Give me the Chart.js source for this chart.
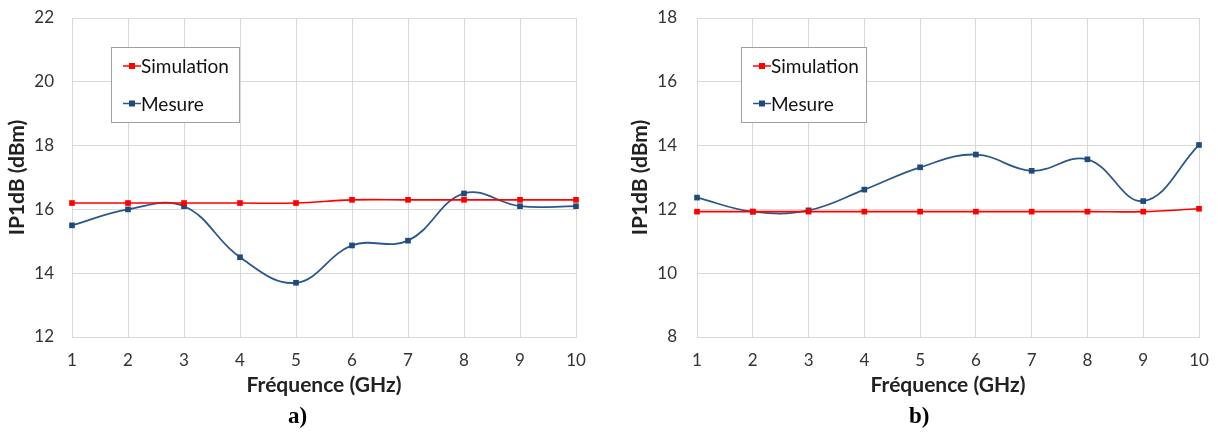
<!DOCTYPE html>
<html>
<head>
<meta charset="utf-8">
<script src="https://cdn.jsdelivr.net/npm/chart.js@4.4.1/dist/chart.umd.min.js"></script>
<style>
  body { margin: 0; background: #fff; }
  .wrap { position: relative; width: 1218px; height: 432px; }
  .panel { position: absolute; top: 0; width: 609px; height: 432px; }
  .cap { position: absolute; top: 403px; font: bold 23px "Liberation Serif", serif; color: #000; }
</style>
</head>
<body>
<div class="wrap">
  <div class="panel" style="left:0"><canvas id="chartA" width="609" height="432"></canvas></div>
  <div class="panel" style="left:609px"><canvas id="chartB" width="609" height="432"></canvas></div>
  <div class="cap" style="left:288px">a)</div>
  <div class="cap" style="left:909px">b)</div>
</div>
<script>
/* data */
const freqs = ['1', '2', '3', '4', '5', '6', '7', '8', '9', '10'];

const simA = [16.2, 16.2, 16.2, 16.2, 16.2, 16.3, 16.3, 16.3, 16.3, 16.3];
const mesA = [15.5, 16.0, 16.1, 14.5, 13.7, 14.87, 15.02, 16.5, 16.1, 16.1];

const simB = [11.93, 11.93, 11.93, 11.93, 11.93, 11.93, 11.93, 11.93, 11.93, 12.02];
const mesB = [12.37, 11.93, 11.97, 12.62, 13.32, 13.72, 13.21, 13.57, 12.26, 14.02];

const ticksA = [12, 14, 16, 18, 20, 22];
const ticksB = [8, 10, 12, 14, 16, 18];

const C_RED  = '#ff0000';
const C_BLUE = '#2b5889';
const C_BMK  = '#1f4a7d';
const C_GRID = '#d9d9d9';
const C_TXT  = '#333333';
const NONE   = 'rgba(0,0,0,0)';

/* legend box inside the plot, like the Excel one */
const boxLegend = {
  id: 'boxLegend',
  afterDatasetsDraw(chart, args, opts) {
    const { ctx, chartArea } = chart;
    const x0 = chartArea.left + opts.dx;
    const y0 = chartArea.top + opts.dy;
    const w = opts.w, h = 75;
    ctx.save();
    ctx.fillStyle = '#fff';
    ctx.fillRect(x0, y0, w, h);
    ctx.strokeStyle = '#a0a0a0';
    ctx.lineWidth = 1;
    ctx.strokeRect(x0 + 0.5, y0 + 0.5, w, h);
    ctx.font = '19px Lato';
    ctx.textBaseline = 'middle';
    chart.data.datasets.forEach((ds, i) => {
      const cy = y0 + 19 + i * 37.5;
      const lx = x0 + 12;
      ctx.strokeStyle = ds.borderColor;
      ctx.lineWidth = 1.5;
      ctx.beginPath(); ctx.moveTo(lx, cy); ctx.lineTo(lx + 18, cy); ctx.stroke();
      ctx.fillStyle = ds.pointBackgroundColor;
      ctx.fillRect(lx + 6, cy - 3, 6, 6);
      ctx.fillStyle = '#111';
      ctx.fillText(ds.label, lx + 18, cy + 1);
    });
    ctx.restore();
  }
};

function makeChart(id, sim, mes, ticks, cfg) {
  const line = (label, data, col, mk, bw) => ({
    label, data,
    borderColor: col, borderWidth: bw,
    pointStyle: 'rect', pointRadius: 4, pointHoverRadius: 4,
    pointBackgroundColor: mk, pointBorderColor: mk, pointBorderWidth: 0,
    tension: 0.4, cubicInterpolationMode: 'default', fill: false
  });

  return new Chart(document.getElementById(id), {
    type: 'line',
    data: {
      labels: freqs,
      datasets: [
        line('Simulation', sim, C_RED, C_RED, 1.6),
        line('Mesure', mes, C_BLUE, C_BMK, 1.8)
      ]
    },
    plugins: [boxLegend],
    options: {
      responsive: false, animation: false,
      layout: { padding: { left: 0, right: cfg.padR, top: 18, bottom: 0 } },
      plugins: {
        legend: { display: false }, tooltip: { enabled: false },
        boxLegend: { dx: cfg.lgX, dy: 29, w: cfg.lgW }
      },
      scales: {
        x: {
          offset: false,
          // invisible tick marks do the spacing, so the tick padding stays small
          grid: { color: C_GRID, drawTicks: true, tickLength: 11, tickColor: NONE },
          border: { color: C_GRID },
          ticks: { color: C_TXT, font: { family: 'Lato', size: 17 }, padding: 2, maxRotation: 0 },
          title: { display: true, text: 'Fréquence (GHz)', color: '#222', font: { family: 'Lato', size: 21, weight: 'bold' }, padding: { top: 0, bottom: 34 } },
          afterFit: s => { s.height = 95; }
        },
        y: {
          min: ticks[0], max: ticks[ticks.length - 1],
          afterBuildTicks: s => { s.ticks = ticks.map(v => ({ value: v })); },
          grid: { color: C_GRID, drawTicks: true, tickLength: cfg.tickLen, tickColor: NONE },
          border: { color: C_GRID },
          ticks: { color: C_TXT, font: { family: 'Lato', size: 17 }, padding: 2 },
          title: { display: true, text: 'IP1dB (dBm)', color: '#222', font: { family: 'Lato', size: 21, weight: 'bold' }, padding: { top: cfg.titlePad, bottom: 0 } },
          afterFit: s => { s.width = cfg.yW; }
        }
      }
    }
  });
}

makeChart('chartA', simA, mesA, ticksA, { yW: 72, padR: 33, tickLen: 16, titlePad: 5, lgX: 39, lgW: 128 });
makeChart('chartB', simB, mesB, ticksB, { yW: 88, padR: 19, tickLen: 18, titlePad: 19, lgX: 44, lgW: 125 });
</script>
</body>
</html>
